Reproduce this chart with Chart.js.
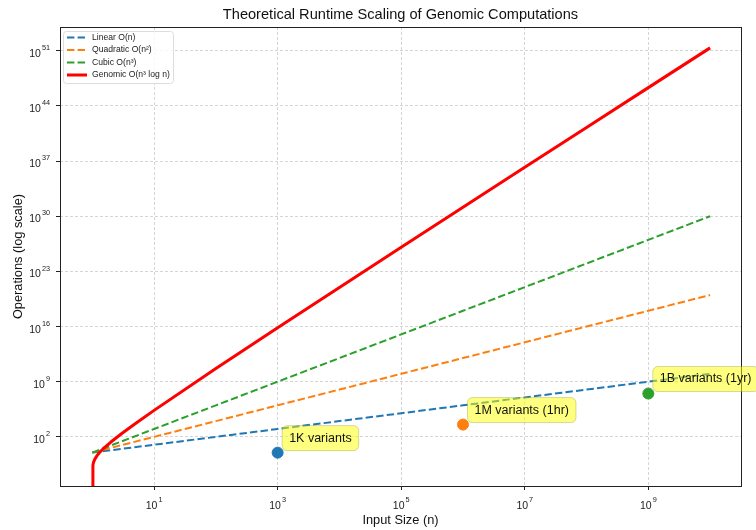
<!DOCTYPE html>
<html>
<head>
<meta charset="utf-8">
<script src="https://cdn.jsdelivr.net/npm/chart.js@4/dist/chart.umd.min.js"></script>
<style>
  body { margin: 0; background: #fff; }
  canvas { display: block; }
</style>
</head>
<body>
<canvas id="grafico" width="756" height="530"></canvas>
<script>
// Datos (escala log-log)
const nValues = [1, 10, 100, 1e3, 1e4, 1e5, 1e6, 1e7, 1e8, 1e9, 1e10];
const linearOps = [1, 10, 100, 1e3, 1e4, 1e5, 1e6, 1e7, 1e8, 1e9, 1e10];
const quadraticOps = [1, 1e2, 1e4, 1e6, 1e8, 1e10, 1e12, 1e14, 1e16, 1e18, 1e20];
const cubicOps = [1, 1e3, 1e6, 1e9, 1e12, 1e15, 1e18, 1e21, 1e24, 1e27, 1e30];

// la curva roja cae en n = 1 (por debajo del eje), por eso lleva mas puntos al principio
const genomicN = [1, 1.023, 1.05, 1.1, 1.2, 1.3, 1.5, 2, 3, 5, 10, 100, 1e3, 1e4, 1e5, 1e6, 1e7, 1e8, 1e9, 1e10];
const genomicOps = [1e-6, 0.026, 0.062, 0.15, 0.45, 0.97, 3.1, 22, 267, 5030, 2.3e5, 4.6e10, 6.9e15, 9.2e20, 1.15e26, 1.38e31, 1.6e36, 1.84e41, 2.07e46, 2.3e51];

const seriesLabels = ['Linear O(n)', 'Quadratic O(n²)', 'Cubic O(n³)', 'Genomic O(n³ log n)'];

// puntos marcados
const markerN = [1e3, 1e6, 1e9];
const markerOps = [1, 3600, 3.15e7];
const markerLabels = ['1K variants', '1M variants (1hr)', '1B variants (1yr)'];

// ticks (exponentes de 10)
const xTickExp = [1, 3, 5, 7, 9];
const yTickExp = [2, 9, 16, 23, 30, 37, 44, 51];

const colores = ['#1f77b4', '#ff7f0e', '#2ca02c', '#ff0000'];
const FONT = '"Liberation Sans", Arial, sans-serif';

function toPoints(xs, ys) {
    return xs.map(function (x, i) { return { x: x, y: ys[i] }; });
}

const datasets = [
    { label: seriesLabels[0], data: toPoints(nValues, linearOps), borderColor: colores[0], borderWidth: 2, borderDash: [7.4, 3.2], pointRadius: 0, order: 5 },
    { label: seriesLabels[1], data: toPoints(nValues, quadraticOps), borderColor: colores[1], borderWidth: 2, borderDash: [7.4, 3.2], pointRadius: 0, order: 4 },
    { label: seriesLabels[2], data: toPoints(nValues, cubicOps), borderColor: colores[2], borderWidth: 2, borderDash: [7.4, 3.2], pointRadius: 0, order: 3 },
    { label: seriesLabels[3], data: toPoints(genomicN, genomicOps), borderColor: colores[3], borderWidth: 3, pointRadius: 0, order: 2, borderJoinStyle: 'round' }
];

markerN.forEach(function (n, i) {
    datasets.push({
        type: 'scatter',
        label: markerLabels[i],
        data: [{ x: n, y: markerOps[i] }],
        backgroundColor: colores[i],
        borderColor: colores[i],
        pointRadius: 5.5,
        showLine: false,
        order: 1
    });
});

function setTicks(exps) {
    return function (scale) {
        scale.ticks = exps.map(function (e) { return { value: Math.pow(10, e) }; });
    };
}

function drawPow(ctx, exp, x, y, align) {
    // dibuja "10" con exponente
    ctx.font = '10.5px ' + FONT;
    const w1 = ctx.measureText('10').width;
    ctx.font = '7.3px ' + FONT;
    const w2 = ctx.measureText(String(exp)).width;
    let left = x - (w1 + w2 + 1) / 2;
    if (align === 'right') left = x - (w1 + w2 + 1);
    ctx.textAlign = 'left';
    ctx.textBaseline = 'alphabetic';
    ctx.fillStyle = '#222';
    ctx.font = '10.5px ' + FONT;
    ctx.fillText('10', left, y);
    ctx.font = '7.3px ' + FONT;
    ctx.fillText(String(exp), left + w1 + 1, y - 6.8);
}

function roundRect(ctx, x, y, w, h, r) {
    ctx.beginPath();
    ctx.moveTo(x + r, y);
    ctx.lineTo(x + w - r, y);
    ctx.arcTo(x + w, y, x + w, y + r, r);
    ctx.lineTo(x + w, y + h - r);
    ctx.arcTo(x + w, y + h, x + w - r, y + h, r);
    ctx.lineTo(x + r, y + h);
    ctx.arcTo(x, y + h, x, y + h - r, r);
    ctx.lineTo(x, y + r);
    ctx.arcTo(x, y, x + r, y, r);
    ctx.closePath();
}

const extras = {
    id: 'extras',
    afterDraw: function (chart) {
        const ctx = chart.ctx;
        const area = chart.chartArea;
        const xs = chart.scales.x;
        const ys = chart.scales.y;
        ctx.save();

        // marco
        ctx.strokeStyle = '#222';
        ctx.lineWidth = 1;
        ctx.setLineDash([]);
        ctx.strokeRect(Math.round(area.left) + 0.5, Math.round(area.top) + 0.5, Math.round(area.right - area.left), Math.round(area.bottom - area.top));

        // etiquetas de los ticks
        xTickExp.forEach(function (e) {
            const px = xs.getPixelForValue(Math.pow(10, e));
            drawPow(ctx, e, px, 509, 'center');
        });
        yTickExp.forEach(function (e) {
            const py = ys.getPixelForValue(Math.pow(10, e));
            drawPow(ctx, e, 50, py + 6, 'right');
        });

        // titulos
        ctx.fillStyle = '#111';
        ctx.textAlign = 'center';
        ctx.textBaseline = 'middle';
        ctx.font = '14.6px ' + FONT;
        ctx.fillText('Theoretical Runtime Scaling of Genomic Computations', (area.left + area.right) / 2, 15);
        ctx.font = '12.8px ' + FONT;
        ctx.fillText('Input Size (n)', (area.left + area.right) / 2, 520);
        ctx.save();
        ctx.translate(18, (area.top + area.bottom) / 2);
        ctx.rotate(-Math.PI / 2);
        ctx.fillText('Operations (log scale)', 0, 0);
        ctx.restore();

        // anotaciones amarillas
        ctx.font = '12.5px ' + FONT;
        markerN.forEach(function (n, i) {
            const px = xs.getPixelForValue(n);
            const py = ys.getPixelForValue(markerOps[i]);
            const tw = ctx.measureText(markerLabels[i]).width;
            const left = px + 4.5;
            const bottom = py - 2;
            const h = 25;
            roundRect(ctx, left, bottom - h, tw + 14, h, 5);
            ctx.fillStyle = 'rgba(255, 255, 0, 0.5)';
            ctx.fill();
            ctx.strokeStyle = 'rgba(140, 140, 60, 0.35)';
            ctx.lineWidth = 1;
            ctx.stroke();
            ctx.fillStyle = '#111';
            ctx.textAlign = 'left';
            ctx.textBaseline = 'middle';
            ctx.fillText(markerLabels[i], left + 7, bottom - h / 2);
        });

        // leyenda
        roundRect(ctx, 63.5, 31.5, 110, 52, 3);
        ctx.fillStyle = 'rgba(255, 255, 255, 0.8)';
        ctx.fill();
        ctx.strokeStyle = '#dddddd';
        ctx.stroke();
        const rowsY = [37.5, 50, 62.5, 75];
        ctx.font = '8.6px ' + FONT;
        seriesLabels.forEach(function (lab, i) {
            ctx.beginPath();
            ctx.strokeStyle = colores[i];
            if (i < 3) {
                ctx.lineWidth = 2;
                ctx.setLineDash([7.4, 3.2]);
            } else {
                ctx.lineWidth = 3;
                ctx.setLineDash([]);
            }
            ctx.moveTo(67, rowsY[i]);
            ctx.lineTo(87, rowsY[i]);
            ctx.stroke();
            ctx.setLineDash([]);
            ctx.fillStyle = '#222';
            ctx.textAlign = 'left';
            ctx.textBaseline = 'middle';
            ctx.fillText(lab, 92, rowsY[i]);
        });
        ctx.restore();
    }
};

const ctx = document.getElementById('grafico').getContext('2d');
new Chart(ctx, {
    type: 'line',
    data: { datasets: datasets },
    options: {
        responsive: false,
        animation: false,
        layout: { padding: { left: 0, right: 15, top: 27, bottom: 0 } },
        plugins: {
            legend: { display: false },
            tooltip: { enabled: false },
            title: { display: false }
        },
        scales: {
            x: {
                type: 'logarithmic',
                min: Math.pow(10, -0.5),
                max: Math.pow(10, 10.5),
                afterBuildTicks: setTicks(xTickExp),
                afterFit: function (s) { s.height = 44; },
                ticks: { display: false },
                grid: { color: 'rgba(180, 180, 180, 0.7)', lineWidth: 0.8, tickColor: '#222', tickLength: 4, tickWidth: 1 },
                border: { display: false, dash: [3, 2] }
            },
            y: {
                type: 'logarithmic',
                min: Math.pow(10, -4.235),
                max: Math.pow(10, 54.01),
                afterBuildTicks: setTicks(yTickExp),
                afterFit: function (s) { s.width = 60; },
                ticks: { display: false },
                grid: { color: 'rgba(180, 180, 180, 0.7)', lineWidth: 0.8, tickColor: '#222', tickLength: 4, tickWidth: 1 },
                border: { display: false, dash: [3, 2] }
            }
        }
    },
    plugins: [extras]
});
</script>
</body>
</html>
